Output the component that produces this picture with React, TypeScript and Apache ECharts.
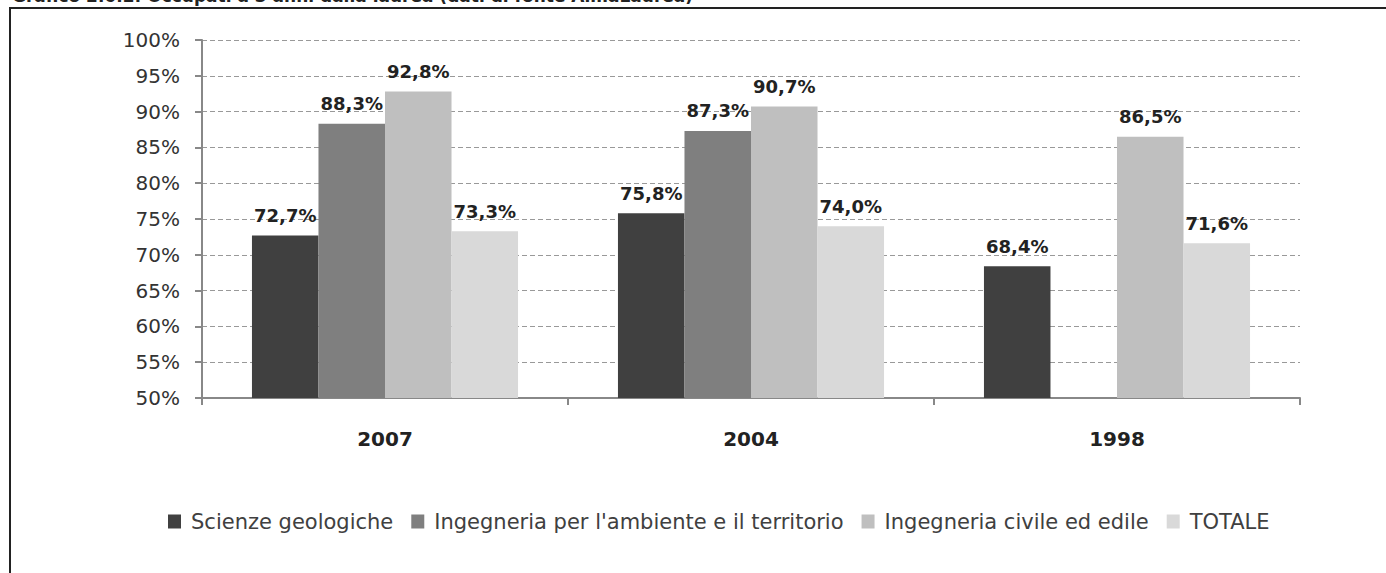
import React, { useEffect, useRef } from "react";
import * as echarts from "echarts";

const categories = ["2007", "2004", "1998"];
const seriesNames = [
  "Scienze geologiche",
  "Ingegneria per l'ambiente e il territorio",
  "Ingegneria civile ed edile",
  "TOTALE",
];
const scienzeGeologiche = [72.7, 75.8, 68.4];
const ingAmbiente: (number | null)[] = [88.3, 87.3, null];
const ingCivile = [92.8, 90.7, 86.5];
const totale = [73.3, 74.0, 71.6];
const colors = ["#404040", "#7f7f7f", "#bfbfbf", "#d9d9d9"];
const titleText = "Grafico 2.6.2: Occupati a 3 anni dalla laurea (dati di fonte AlmaLaurea)";

const FONT = "'DejaVu Sans', sans-serif";

export default function App() {
  const ref = useRef<HTMLDivElement>(null);
  useEffect(() => {
    if (!ref.current) return;
    const chart = echarts.init(ref.current, null, { renderer: "svg" });
    const data = [scienzeGeologiche, ingAmbiente, ingCivile, totale];
    chart.setOption({
      animation: false,
      backgroundColor: "#ffffff",
      textStyle: { fontFamily: FONT },
      graphic: [
        {
          type: "rect",
          shape: { x: 10, y: 8, width: 1500, height: 700 },
          style: { fill: "none", stroke: "#222", lineWidth: 2 },
          silent: true,
        },
        {
          type: "text",
          x: 12,
          y: 4,
          style: {
            text: titleText,
            fontSize: 17,
            fontWeight: "bold",
            fontFamily: FONT,
            fill: "#222",
            verticalAlign: "bottom",
          },
        },
      ],
      grid: { left: 202, right: 86, top: 40, bottom: 175, containLabel: false },
      legend: {
        data: seriesNames,
        top: 506,
        left: 163,
        icon: "rect",
        itemWidth: 13,
        itemHeight: 14,
        itemGap: 18,
        textStyle: {
          fontSize: 21,
          color: "#404040",
          fontFamily: FONT,
          padding: [0, 0, 0, 5],
        },
      },
      xAxis: {
        type: "category",
        data: categories,
        axisLine: { lineStyle: { color: "#888", width: 2 } },
        axisTick: { show: true, length: 7, lineStyle: { color: "#888", width: 2 } },
        axisLabel: {
          fontSize: 20,
          fontWeight: "bold",
          color: "#222",
          margin: 31,
          fontFamily: FONT,
        },
      },
      yAxis: {
        type: "value",
        min: 50,
        max: 100,
        interval: 5,
        axisLine: { show: true, lineStyle: { color: "#888", width: 2 } },
        axisTick: { show: true, length: 7, lineStyle: { color: "#888", width: 2 } },
        splitLine: { lineStyle: { color: "#999", type: [5, 3], width: 1 } },
        axisLabel: {
          formatter: (v: number) => `${v}%`,
          fontSize: 20,
          color: "#333",
          margin: 22,
          fontFamily: FONT,
        },
      },
      series: seriesNames.map((name, i) => ({
        name,
        type: "bar",
        data: data[i],
        barGap: "0%",
        barCategoryGap: "27.3%",
        itemStyle: { color: colors[i] },
        label: {
          show: true,
          position: "top",
          distance: 11,
          fontSize: 18,
          fontWeight: "bold",
          color: "#222",
          fontFamily: FONT,
          formatter: (p: any) =>
            p.value == null ? "" : Number(p.value).toFixed(1).replace(".", ",") + "%",
        },
      })),
    });
    return () => chart.dispose();
  }, []);
  return (
    <div
      ref={ref}
      style={{ position: "fixed", left: 0, top: 0, width: 1386, height: 573 }}
    />
  );
}
